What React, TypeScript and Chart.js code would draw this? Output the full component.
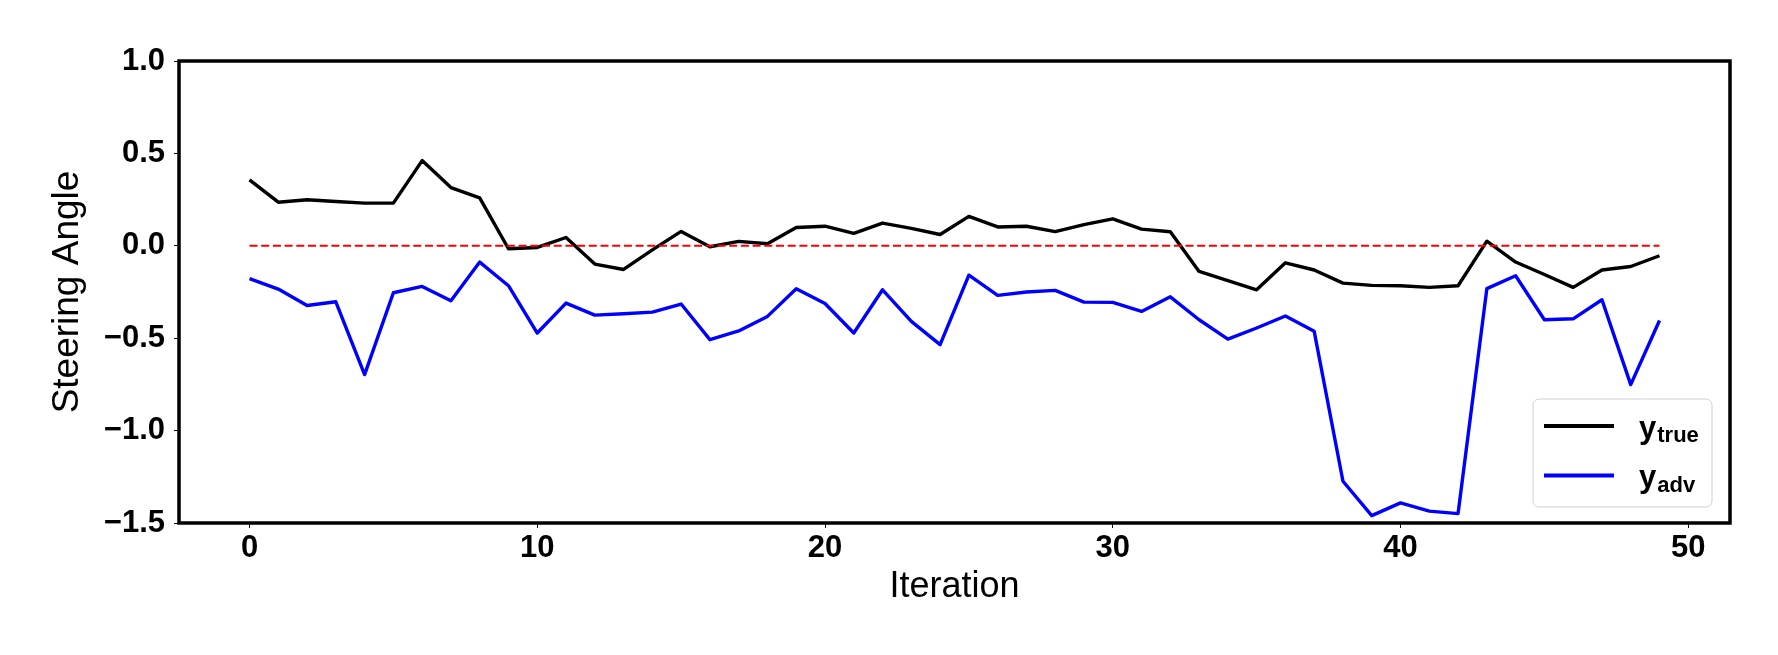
import { useEffect, useRef } from 'react'
import { Chart, registerables } from 'chart.js'

Chart.register(...registerables)

// steering angle per iteration
const yTrue = [
  0.357, 0.236, 0.249, 0.24, 0.231, 0.231, 0.461, 0.315, 0.259, -0.016,
  -0.009, 0.045, -0.099, -0.128, -0.022, 0.078, -0.005, 0.024, 0.011, 0.099,
  0.106, 0.067, 0.123, 0.094, 0.061, 0.159, 0.102, 0.106, 0.077, 0.115,
  0.146, 0.09, 0.076, -0.139, -0.189, -0.238, -0.092, -0.131, -0.202, -0.214,
  -0.216, -0.225, -0.216, 0.025, -0.088, -0.155, -0.225, -0.131, -0.112, -0.054,
]
const yAdv = [
  -0.178, -0.234, -0.323, -0.303, -0.697, -0.254, -0.22, -0.297, -0.088, -0.216,
  -0.472, -0.31, -0.375, -0.368, -0.359, -0.315, -0.508, -0.461, -0.382, -0.232,
  -0.312, -0.472, -0.238, -0.409, -0.535, -0.159, -0.268, -0.25, -0.241, -0.305,
  -0.306, -0.355, -0.276, -0.4, -0.505, -0.445, -0.38, -0.463, -1.274, -1.46,
  -1.391, -1.436, -1.449, -0.232, -0.162, -0.4, -0.395, -0.292, -0.751, -0.404,
]
const iterations = yTrue.map((_, i) => i)
const referenceValue = 0

const seriesSymbol = 'y'
const seriesSubscripts = ['true', 'adv']
const seriesColors = ['#000000', '#0000ff']

const xTickValues = [0, 10, 20, 30, 40, 50]
const yTickValues = [-1.5, -1.0, -0.5, 0, 0.5, 1.0]

const FONT = "'Liberation Sans', Arial, sans-serif"

const framePlugin = {
  id: 'frame',
  afterDatasetsDraw(chart: any) {
    const { ctx, chartArea: a } = chart
    ctx.save()
    ctx.strokeStyle = '#000'
    ctx.lineWidth = 3.5
    ctx.strokeRect(a.left, a.top, a.right - a.left, a.bottom - a.top)
    ctx.restore()
  },
}

// legend with subscripted labels, chart.js's own legend can't do subscripts
const subLegendPlugin = {
  id: 'subLegend',
  afterDraw(chart: any) {
    const { ctx, chartArea: a } = chart
    const w = 179
    const h = 108
    const x = a.right - 18 - w
    const y = a.bottom - 16 - h
    ctx.save()
    ctx.beginPath()
    ctx.roundRect(x, y, w, h, 6)
    ctx.fillStyle = 'rgba(255,255,255,0.8)'
    ctx.fill()
    ctx.strokeStyle = '#d0d0d0'
    ctx.lineWidth = 1
    ctx.stroke()

    seriesSubscripts.forEach((sub, i) => {
      const ly = y + 27 + i * 49.5
      ctx.beginPath()
      ctx.moveTo(x + 11, ly)
      ctx.lineTo(x + 81, ly)
      ctx.strokeStyle = seriesColors[i]
      ctx.lineWidth = 3.8
      ctx.stroke()

      ctx.fillStyle = '#000'
      ctx.textBaseline = 'alphabetic'
      ctx.textAlign = 'left'
      ctx.font = `bold 31px ${FONT}`
      const tx = x + 106
      const base = ly + 11.5
      ctx.fillText(seriesSymbol, tx, base)
      const sw = ctx.measureText(seriesSymbol).width
      ctx.font = `bold 22px ${FONT}`
      ctx.fillText(sub, tx + sw + 1, base + 4.5)
    })
    ctx.restore()
  },
}

const fmt = (v: number) => (v < 0 ? '\u2212' : '') + Math.abs(v).toFixed(1)

export default function App() {
  const canvasRef = useRef<HTMLCanvasElement>(null)

  useEffect(() => {
    if (!canvasRef.current) return

    const chart = new Chart(canvasRef.current, {
      type: 'line',
      data: {
        datasets: [
          {
            label: 'reference',
            data: [
              { x: iterations[0], y: referenceValue },
              { x: iterations[iterations.length - 1], y: referenceValue },
            ],
            borderColor: '#ff0000',
            borderWidth: 2,
            borderDash: [8, 3.7],
            pointRadius: 0,
            order: 0,
          },
          {
            label: seriesSymbol + seriesSubscripts[0],
            data: yTrue.map((v, i) => ({ x: iterations[i], y: v })),
            borderColor: seriesColors[0],
            borderWidth: 3.4,
            borderJoinStyle: 'round',
            pointRadius: 0,
            order: 1,
          },
          {
            label: seriesSymbol + seriesSubscripts[1],
            data: yAdv.map((v, i) => ({ x: iterations[i], y: v })),
            borderColor: seriesColors[1],
            borderWidth: 3.4,
            borderJoinStyle: 'round',
            pointRadius: 0,
            order: 2,
          },
        ],
      },
      options: {
        animation: false,
        responsive: true,
        maintainAspectRatio: false,
        layout: { padding: { left: 0, top: 61, right: 48, bottom: 0 } },
        plugins: {
          legend: { display: false },
          tooltip: { enabled: false },
        },
        scales: {
          x: {
            type: 'linear',
            min: -2.45,
            max: 51.45,
            afterBuildTicks: (scale: any) => {
              scale.ticks = xTickValues.map((value) => ({ value }))
            },
            afterFit: (scale: any) => {
              scale.height = 132
            },
            border: { display: false },
            grid: {
              drawOnChartArea: false,
              drawTicks: true,
              tickLength: 5,
              color: '#000',
              lineWidth: 1,
            },
            ticks: {
              color: '#000',
              padding: 2,
              maxRotation: 0,
              font: { family: FONT, size: 31, weight: 'bold' },
              callback: (v: any) => String(v),
            },
            title: {
              display: true,
              text: 'Iteration',
              color: '#000',
              font: { family: FONT, size: 36 },
              padding: { top: 0, bottom: 46 },
            },
          },
          y: {
            min: -1.5,
            max: 1.0,
            afterBuildTicks: (scale: any) => {
              scale.ticks = yTickValues.map((value) => ({ value }))
            },
            afterFit: (scale: any) => {
              scale.width = 179
            },
            border: { display: false },
            grid: {
              drawOnChartArea: false,
              drawTicks: true,
              tickLength: 5,
              color: '#000',
              lineWidth: 1,
            },
            ticks: {
              color: '#000',
              padding: 9,
              font: { family: FONT, size: 31, weight: 'bold' },
              callback: (v: any) => fmt(Number(v)),
            },
            title: {
              display: true,
              text: 'Steering Angle',
              color: '#000',
              font: { family: FONT, size: 37 },
              padding: { top: 46, bottom: 0 },
            },
          },
        },
      },
      plugins: [framePlugin, subLegendPlugin],
    })

    return () => chart.destroy()
  }, [])

  return (
    <div
      style={{
        position: 'fixed',
        left: 0,
        top: 0,
        width: 1778,
        height: 655,
        background: '#fff',
      }}
    >
      <canvas ref={canvasRef} />
    </div>
  )
}
